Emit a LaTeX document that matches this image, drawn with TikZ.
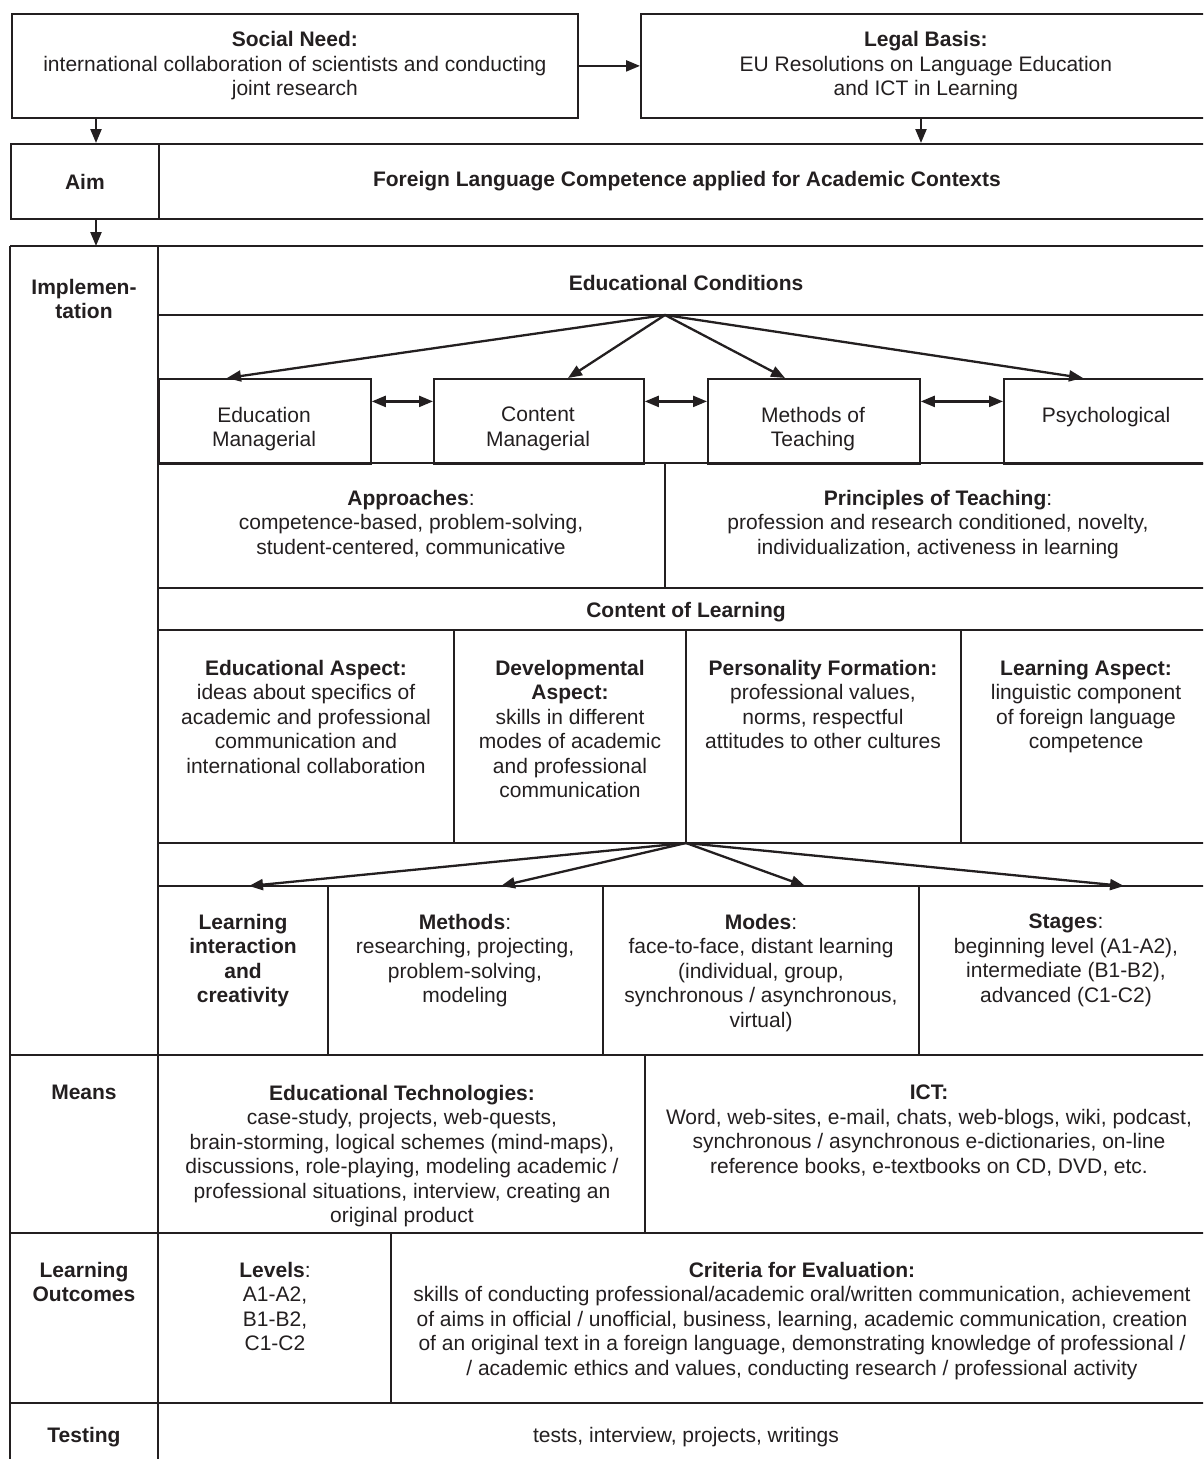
\documentclass[tikz,border=0pt]{standalone}
\usepackage{fontspec}
\setmainfont{Liberation Sans}
\usetikzlibrary{arrows.meta}
\definecolor{ink}{HTML}{231F20}

\begin{document}
\begin{tikzpicture}[x=1pt,y=-1pt,
  rule/.style={line width=1.8pt, draw=ink},
  cell/.style={draw=ink, line width=1.8pt, inner sep=0pt, align=center,
    font=\fontsize{21}{24.4}\selectfont, text=ink},
  txt/.style={inner sep=0pt, align=center, anchor=north,
    font=\fontsize{21}{24.4}\selectfont, text=ink},
  arr/.style={line width=2.3pt, draw=ink, -{Triangle[length=14pt,width=11pt]}},
  dbl/.style={line width=2.3pt, draw=ink,
    {Triangle[length=14pt,width=11pt]}-{Triangle[length=14pt,width=11pt]}}]
\useasboundingbox (0,0) rectangle (1203,1459);
\clip (0,0) rectangle (1203,1459);
\def\R{1214}

% ---------- top boxes ----------
\node[cell, minimum width=566pt, minimum height=104pt, anchor=north west] (social) at (11,13)
  {\textbf{Social Need:}\\international collaboration of scientists and conducting\\joint research};
\node[cell, minimum width=570pt, minimum height=104pt, anchor=north west] (legal) at (640,13)
  {\textbf{Legal Basis:}\\EU Resolutions on Language Education\\and ICT in Learning};
\draw[arr] (social.east) -- (legal.west);

% ---------- aim row ----------
\node[cell, minimum width=148pt, minimum height=75pt, anchor=north west] (aimlab) at (10,143)
  {\textbf{Aim}};
\node[cell, minimum width=1056pt, minimum height=75pt, anchor=north west] (aimtxt) at (158,143)
  {\textbf{Foreign Language Competence applied for Academic Contexts}};
\draw[arr] ([xshift=85pt]social.south west) -- ([xshift=86pt]aimlab.north west);
\draw[arr] ([xshift=281pt]legal.south west) -- ([xshift=763pt]aimtxt.north west);

% ---------- table grid ----------
\coordinate (implTop) at (96,246);
\draw[arr] ([xshift=86pt]aimlab.south west) -- (implTop);
\draw[rule] (10,246) -- (\R,246);
\draw[rule] (10,246) -- (10,1470);
\draw[rule] (158,246) -- (158,1470);
\draw[rule] (158,315) -- (\R,315);
\draw[rule] (158,463) -- (\R,463);
\draw[rule] (665,463) -- (665,588);
\draw[rule] (158,588) -- (\R,588);
\draw[rule] (158,630) -- (\R,630);
\foreach \x in {454,686,961} \draw[rule] (\x,630) -- (\x,843);
\draw[rule] (158,843) -- (\R,843);
\draw[rule] (158,886) -- (\R,886);
\foreach \x in {328,603,919} \draw[rule] (\x,886) -- (\x,1055);
\draw[rule] (10,1055) -- (\R,1055);
\draw[rule] (645,1055) -- (645,1233);
\draw[rule] (10,1233) -- (\R,1233);
\draw[rule] (391,1233) -- (391,1403);
\draw[rule] (10,1403) -- (\R,1403);

% ---------- row labels ----------
\node[txt] (implab) at (84,279) {\textbf{Implemen-}\\\textbf{tation}};
\node[txt] (meanslab) at (84,1085) {\textbf{Means}};
\node[txt] (outlab) at (84,1262) {\textbf{Learning}\\\textbf{Outcomes}};
\node[txt] (testlab) at (84,1427) {\textbf{Testing}};

% ---------- educational conditions ----------
\node[txt] (econd) at (686,275) {\textbf{Educational Conditions}};
\coordinate (ec) at (665,315);
\node[cell, minimum width=212pt, minimum height=85pt, anchor=north west] (em) at (158,378) {};
\node[cell, minimum width=210pt, minimum height=85pt, anchor=north west] (cm) at (433,378) {};
\node[cell, minimum width=212pt, minimum height=85pt, anchor=north west] (mt) at (707,378) {};
\node[cell, minimum width=211pt, minimum height=85pt, anchor=north west] (ps) at (1003,378) {};
\node[txt] (emt) at (264,407) {Education\\Managerial};
\node[txt] (cmt) at (538,407) {Content\\Managerial};
\node[txt] (mtt) at (813,407) {Methods of\\Teaching};
\node[txt] (pst) at (1106,407) {Psychological};
\coordinate (t1) at (227,378);
\coordinate (t2) at (568,378);
\coordinate (t3) at (785,378);
\coordinate (t4) at (1083,378);
\foreach \t in {t1,t2,t3,t4} \draw[arr] (ec) -- (\t);
\draw[dbl] ([yshift=20pt]em.east) -- ([yshift=20pt]cm.west);
\draw[dbl] ([yshift=20pt]cm.east) -- ([yshift=20pt]mt.west);
\draw[dbl] ([yshift=20pt]mt.east) -- ([yshift=20pt]ps.west);

% ---------- approaches and principles ----------
\node[txt] (appr) at (411,490) {\textbf{Approaches}:\\competence-based, problem-solving,\\student-centered, communicative};
\node[txt] (princ) at (938,490) {\textbf{Principles of Teaching}:\\profession and research conditioned, novelty,\\individualization, activeness in learning};

% ---------- content of learning ----------
\node[txt] (col) at (686,602) {\textbf{Content of Learning}};
\node[txt] (asp1) at (306,660) {\textbf{Educational Aspect:}\\ideas about specifics of\\academic and professional\\communication and\\international collaboration};
\node[txt] (asp2) at (570,660) {\textbf{Developmental}\\\textbf{Aspect:}\\skills in different\\modes of academic\\and professional\\communication};
\node[txt] (asp3) at (823,660) {\textbf{Personality Formation:}\\professional values,\\norms, respectful\\attitudes to other cultures};
\node[txt] (asp4) at (1086,660) {\textbf{Learning Aspect:}\\linguistic component\\of foreign language\\competence};

% ---------- forms of organisation ----------
\coordinate (cl) at (686,843);
\coordinate (b1) at (249,886);
\coordinate (b2) at (501,886);
\coordinate (b3) at (805,886);
\coordinate (b4) at (1124,886);
\foreach \t in {b1,b2,b3,b4} \draw[arr] (cl) -- (\t);
\node[txt] (lic) at (243,914) {\textbf{Learning}\\\textbf{interaction}\\\textbf{and}\\\textbf{creativity}};
\node[txt] (meth) at (465,914) {\textbf{Methods}:\\researching, projecting,\\problem-solving,\\modeling};
\node[txt] (modes) at (761,914) {\textbf{Modes}:\\face-to-face, distant learning\\(individual, group,\\synchronous / asynchronous,\\virtual)};
\node[txt] (stages) at (1066,914) {\textbf{Stages}:\\beginning level (A1-A2),\\intermediate (B1-B2),\\advanced (C1-C2)};

% ---------- means ----------
\node[txt] (edtech) at (402,1085) {\textbf{Educational Technologies:}\\case-study, projects, web-quests,\\brain-storming, logical schemes (mind-maps),\\discussions, role-playing, modeling academic /\\professional situations, interview, creating an\\original product};
\node[txt] (ict) at (929,1085) {\textbf{ICT:}\\Word, web-sites, e-mail, chats, web-blogs, wiki, podcast,\\synchronous / asynchronous e-dictionaries, on-line\\reference books, e-textbooks on CD, DVD, etc.};

% ---------- learning outcomes ----------
\node[txt] (levels) at (275,1262) {\textbf{Levels}:\\A1-A2,\\B1-B2,\\C1-C2};
\node[txt] (crit) at (802,1262) {\textbf{Criteria for Evaluation:}\\skills of conducting professional/academic oral/written communication, achievement\\of aims in official / unofficial, business, learning, academic communication, creation\\of an original text in a foreign language, demonstrating knowledge of professional /\\/ academic ethics and values, conducting research / professional activity};

% ---------- testing ----------
\node[txt] (tests) at (686,1427) {tests, interview, projects, writings};
\end{tikzpicture}
\end{document}
